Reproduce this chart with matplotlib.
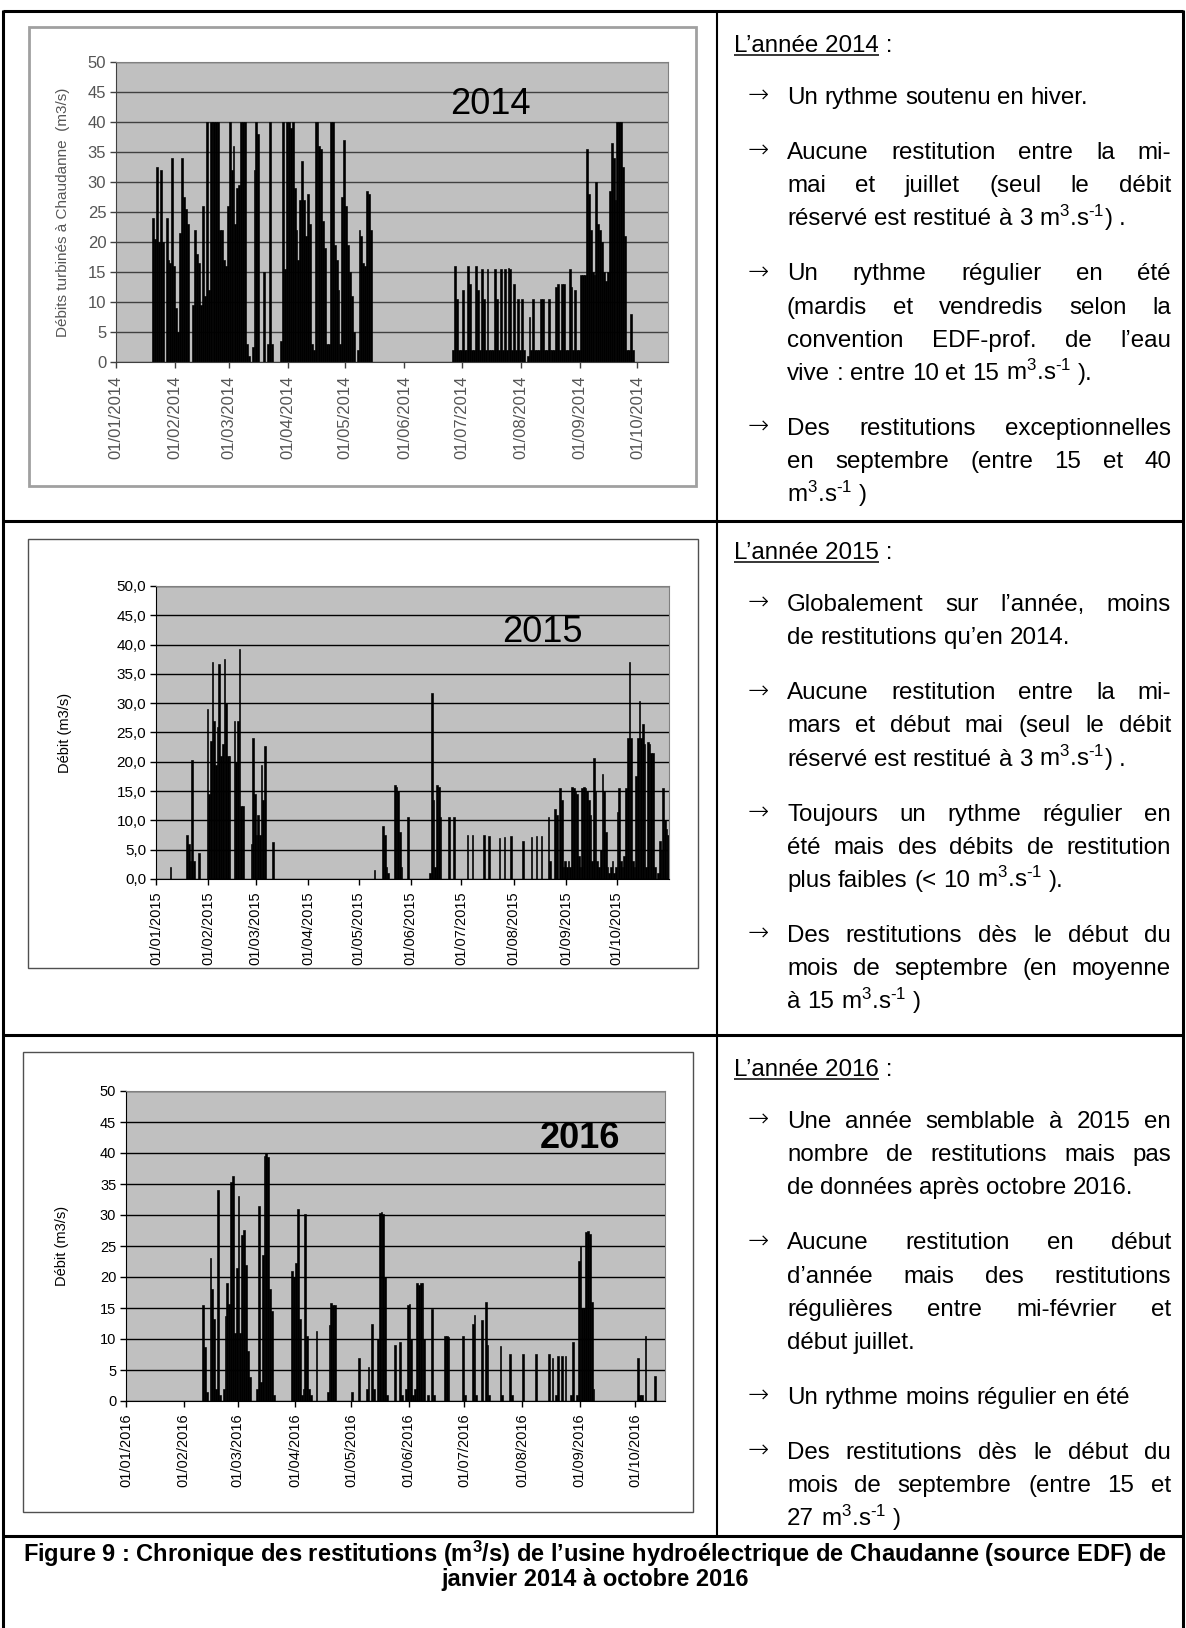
"""Chronique des restitutions de l'usine hydroélectrique de Chaudanne, 2014-2016."""

import datetime as dt

import matplotlib
matplotlib.use("Agg")
import matplotlib.pyplot as plt
import matplotlib.dates as mdates
from matplotlib.lines import Line2D
from matplotlib.patches import Rectangle
from matplotlib.ticker import FuncFormatter

plt.rcParams["font.family"] = ["Liberation Sans", "DejaVu Sans"]
plt.rcParams["mathtext.fontset"] = "custom"
plt.rcParams["mathtext.rm"] = "Liberation Sans"
plt.rcParams["mathtext.it"] = "Liberation Sans:italic"
plt.rcParams["mathtext.bf"] = "Liberation Sans:bold"

# --- daily discharge (m3/s), one row per month ---
debit_2014 = (
    [0] * 19 + [24, 20.5, 32.5, 20, 32, 20, 0, 24, 17, 16.5, 34, 16]
    + [9, 5, 21.5, 34, 27.5, 25.5, 23, 0, 0, 9.5, 22, 18, 16.5, 9.5, 26, 11,
       40, 12, 40, 40, 40, 40, 40, 22, 22, 17, 16, 26]
    + [40, 32, 36, 23, 29, 29.5, 40, 40, 40, 3, 1, 0, 2.5, 32, 40, 38, 0, 0,
       15, 0, 3, 40, 3, 0, 0, 0, 0, 3.5, 40, 15.5, 40]
    + [40, 39, 40, 29, 22, 17, 27, 33.5, 27, 21, 28, 23, 3, 2, 40, 40, 36,
       35.5, 23.5, 19, 3, 3, 40, 40, 19.5, 17, 12, 3, 27.5, 37]
    + [26, 19.5, 15, 11, 5, 0, 2, 22, 21, 16.5, 16, 28.5, 28, 22] + [0] * 17
    + [0] * 25 + [2, 16, 10.5, 2, 2]
    + [12, 2, 2, 16, 13, 2, 2, 16, 12, 2, 15.5, 10.5, 2, 15.5, 2, 2, 2, 15.5,
       10.5, 2, 15.5, 2, 15.5, 2, 15.7, 15.5, 2, 13, 2, 10.5, 2]
    + [10.5, 2, 0, 1, 7.5, 2, 10.5, 2, 2, 2, 10.5, 10.5, 2, 2, 10.5, 2, 2, 2,
       12.5, 13, 2, 13, 13, 2, 2, 15.5, 12.5, 2, 12, 2, 2]
    + [14.5, 14.5, 14.5, 35.5, 28, 22, 15, 14.5, 30, 23, 22, 20, 15, 13.5, 15,
       28.5, 36.5, 34, 27, 40, 40, 40, 32.5, 21, 2, 2, 8, 2, 0, 0]
    + [0] * 16
)

debit_2015 = (
    [0] * 8 + [2] + [0] * 9 + [7.5, 6, 3, 20.3, 3, 0, 0, 4.5, 0, 0, 0, 0, 29]
    + [14.5, 23.5, 37, 27, 19.5, 26, 36.7, 21, 23, 37.5, 30, 21, 21, 0, 0,
       27, 20, 27, 39.3, 12.5, 12.5, 0, 0, 0, 0, 6, 24, 14.5]
    + [7.5, 11, 7.5, 19.5, 13.5, 22.7, 0, 0, 0, 0, 6.3] + [0] * 20
    + [0] * 30
    + [0] * 9 + [1.5, 0, 0, 0, 0, 9, 7.5, 2, 1, 0, 0, 0, 16, 15.7, 15, 8, 2,
                 0, 0, 0, 10.5, 0]
    + [0] * 11 + [1, 31.7, 13.5, 2, 16, 15.7, 10.5, 0, 0, 0, 0, 10.5, 0, 0,
                  10.5, 0, 0, 0, 0]
    + [0, 0, 0, 7.5, 0, 0, 7.5, 0, 0, 0, 0, 0, 0, 7.5, 0, 0, 7.3, 0, 0, 0, 0,
       0, 7, 0, 0, 7.2, 0, 0, 0, 7.3, 0]
    + [0, 0, 0, 0, 0, 6.5, 0, 0, 0, 0, 7.2, 0, 0, 7.3, 0, 0, 7.4, 0, 0, 0,
       10.5, 3, 0, 0, 12, 11, 0, 15.5, 13.5, 2, 3]
    + [2, 3, 2, 15.7, 15.5, 15, 14.5, 4, 2, 15.5, 15.7, 15.5, 15, 13.5, 11, 3,
       20.7, 15, 3, 2, 5, 18, 15, 8, 2, 1, 2, 3, 1, 2]
    + [11.5, 15.5, 3, 2, 4, 15.5, 24, 37.1, 24, 3, 2, 17.5, 24, 30.3, 24, 26.4,
       23, 2, 23.3, 23, 21.5, 21.5, 2, 0, 1, 6.5, 5, 15.5, 10, 8.5, 7.5]
)

debit_2016 = (
    [0] * 31
    + [0] * 10 + [15.5, 8.7, 1.5, 0, 23, 18, 13.3, 2, 34, 1, 0, 2, 13.7, 19,
                  15.6, 35.3, 36.3, 11, 21.5]
    + [33, 11, 26.8, 27.6, 22, 8, 3.8, 0, 0, 0, 2, 31.4, 3, 23.5, 39.5, 40,
       39.3, 18, 14.5, 1] + [0] * 9 + [21, 20]
    + [22.3, 31, 13.3, 1, 2, 30.2, 10.5, 2, 1, 0, 0, 11.3, 0, 0, 0, 0, 0, 1.5,
       12.3, 15.8, 15.5, 15.5] + [0] * 8
    + [1.5, 0, 0, 0, 7, 0, 0, 0, 2, 5.5, 0, 12.5, 2, 0, 10, 30.3, 30.5, 30.2,
       20, 1, 0, 0, 0, 9, 0, 0, 9.5, 1, 0, 2, 15.5]
    + [15.6, 10, 1, 2, 19, 18.7, 19, 19, 10, 0, 1, 0, 14.8, 1, 0, 0, 0, 0, 0,
       10.5, 10.5, 10.3, 0, 0, 0, 0, 0, 0, 0, 10.5]
    + [1, 0, 0, 0, 12.4, 13.8, 1, 0, 0, 13, 0, 15.9, 9, 1, 0, 0, 0, 0, 0, 8.8,
       1, 0, 0, 0, 7.6, 1, 0, 0, 0, 0, 0]
    + [7.6, 0, 0, 0, 0, 0, 0, 7.6, 0, 0, 0, 0, 0, 0, 7.6, 0, 7, 0, 1, 7.2, 0,
       7.2, 0, 7.2, 0, 0, 1, 9.5, 0, 1, 22.6]
    + [25, 15, 15, 27.3, 27.5, 27, 16, 2] + [0] * 22
    + [0, 7, 1, 1, 0, 10.5, 0, 0, 0, 0, 4, 0, 0, 0, 0, 0]
)

y_ticks = [0, 5, 10, 15, 20, 25, 30, 35, 40, 45, 50]
tick_months = [1, 2, 3, 4, 5, 6, 7, 8, 9, 10]

UNIT = "m$^{3}$.s$^{‐1}$"
commentaires = {
    2014: [
        ["Un rythme soutenu en hiver."],
        ["Aucune restitution entre la mi-",
         "mai et juillet (seul le débit",
         f"réservé est restitué à 3 {UNIT}) ."],
        ["Un rythme régulier en été",
         "(mardis et vendredis selon la",
         "convention EDF-prof. de l’eau",
         f"vive : entre 10 et 15 {UNIT} )."],
        ["Des restitutions exceptionnelles",
         "en septembre (entre 15 et 40",
         f"{UNIT} )"],
    ],
    2015: [
        ["Globalement sur l’année, moins",
         "de restitutions qu’en 2014."],
        ["Aucune restitution entre la mi-",
         "mars et début mai (seul le débit",
         f"réservé est restitué à 3 {UNIT}) ."],
        ["Toujours un rythme régulier en",
         "été mais des débits de restitution",
         f"plus faibles (< 10 {UNIT} )."],
        ["Des restitutions dès le début du",
         "mois de septembre (en moyenne",
         f"à 15 {UNIT} )"],
    ],
    2016: [
        ["Une année semblable à 2015 en",
         "nombre de restitutions mais pas",
         "de données après octobre 2016."],
        ["Aucune restitution en début",
         "d’année mais des restitutions",
         "régulières entre mi-février et",
         "début juillet."],
        ["Un rythme moins régulier en été"],
        ["Des restitutions dès le début du",
         "mois de septembre (entre 15 et",
         f"27 {UNIT} )"],
    ],
}

legende = [
    "Figure 9 : Chronique des restitutions (m$^{\\mathbf{3}}$/s) de l’usine "
    "hydroélectrique de Chaudanne (source EDF) de",
    "janvier 2014 à octobre 2016",
]

# --- page geometry (pixels, origin top-left) ---
W, H = 1186, 1628
fig = plt.figure(figsize=(W / 100, H / 100), dpi=100)
renderer = fig.canvas.get_renderer()


def fx(x):
    return x / W


def fy(y):
    return 1 - y / H


def line(x0, y0, x1, y1, lw=2.2, color="black"):
    fig.add_artist(Line2D([fx(x0), fx(x1)], [fy(y0), fy(y1)], lw=lw,
                          color=color, solid_capstyle="butt"))


def frame(box, color, lw):
    x0, y0, x1, y1 = box
    fig.add_artist(Rectangle((fx(x0), fy(y1)), (x1 - x0) / W, (y1 - y0) / H,
                             transform=fig.transFigure, fill=False,
                             ec=color, lw=lw))


def draw_chart(year, values, plot_box, frame_box, ylabel, ylabel_x, fmt,
               label_x, label_y, bold, muted, ysize=10.5):
    ink = "#404040" if muted else "black"
    frame(frame_box, "#a0a0a0" if muted else "#505050", 2.0 if muted else 1.0)

    x0, y0, x1, y1 = plot_box
    ax = fig.add_axes([fx(x0), fy(y1), (x1 - x0) / W, (y1 - y0) / H])
    start = dt.date(year, 1, 1)
    days = [start + dt.timedelta(days=i) for i in range(len(values))]
    ax.bar(days, values, width=1.0, align="edge", color="black",
           ec="black", lw=0.45)

    ax.set_xlim(start, start + dt.timedelta(days=len(values)))
    ax.set_ylim(0, 50)
    ax.set_facecolor("#c0c0c0")
    ax.set_axisbelow(True)
    ax.grid(axis="y", color=ink, lw=1.0)

    ax.set_yticks(y_ticks)
    ax.yaxis.set_major_formatter(FuncFormatter(fmt))
    ax.set_xticks([dt.date(year, m, 1) for m in tick_months])
    ax.xaxis.set_major_formatter(mdates.DateFormatter("%d/%m/%Y"))
    tcol = "#555555" if muted else "black"
    ax.tick_params(axis="both", direction="out", length=4, width=1,
                   color=ink, labelcolor=tcol)
    ax.tick_params(axis="y", labelsize=12 if muted else ysize, pad=3)
    ax.tick_params(axis="x", labelrotation=90, labelsize=12 if muted else 10.5,
                   pad=6 if muted else 5)

    for side in ("top", "right"):
        ax.spines[side].set_color("#808080")
    for side in ("left", "bottom"):
        ax.spines[side].set_color(ink)

    ax.text(ylabel_x, 0.5, ylabel, transform=ax.transAxes, rotation=90,
            ha="center", va="center", fontsize=11 if muted else 10.5,
            color=tcol)
    ax.text(label_x, label_y, str(year), transform=ax.get_yaxis_transform(),
            ha="center", va="center", fontsize=26,
            fontweight="bold" if bold else "normal")
    return ax


def fmt_int(v, _pos):
    return f"{v:.0f}"


def fmt_dec(v, _pos):
    return f"{v:.1f}".replace(".", ",")


draw_chart(2014, debit_2014, (116, 62, 668, 362), (29, 27, 696, 486),
           "Débits turbinés à Chaudanne  (m3/s)", -0.096, fmt_int,
           0.678, 43, False, True)
draw_chart(2015, debit_2015, (156, 586, 669, 879), (28, 539, 698, 968),
           "Débit (m3/s)", -0.177, fmt_dec, 0.754, 42.1, False, False,
           ysize=11)
draw_chart(2016, debit_2016, (126, 1091, 665, 1401), (23, 1052, 693, 1512),
           "Débit (m3/s)", -0.119, fmt_int, 0.842, 42.4, True, False)

# --- table rules ---
TOP, ROW1, ROW2, ROW3 = 11, 521, 1035, 1536
LEFT, MID, RIGHT = 3, 717, 1183
line(LEFT, TOP, RIGHT, TOP)
for y in (ROW1, ROW2, ROW3):
    line(LEFT, y, RIGHT, y)
line(LEFT, TOP - 1, LEFT, H)
line(RIGHT, TOP - 1, RIGHT, H)
line(MID, TOP, MID, ROW3, lw=1.5)

# --- commentary panels, justified by hand word by word ---
FS = 17.4
X_HEAD, X_ARROW, X_TEXT, X_END = 734, 758, 787, 1171
STEP, GAP = 33.2, 55
SPACE = FS * 100 / 72 * 0.278


def width_of(t):
    return t.get_window_extent(renderer).width


def put_line(text, baseline, justify):
    words = text.split(" ")
    items = [fig.text(0, 0, w, fontsize=FS, va="baseline") for w in words]
    widths = [width_of(t) for t in items]
    gap = SPACE
    if justify and len(words) > 1:
        gap = (X_END - X_TEXT - sum(widths)) / (len(words) - 1)
    x = X_TEXT
    for t, w in zip(items, widths):
        t.set_position((fx(x), fy(baseline)))
        x += w + gap


def draw_panel(year, head_y):
    base = head_y + 7
    head = fig.text(fx(X_HEAD), fy(base), f"L’année {year}", fontsize=FS,
                    va="baseline")
    hw = width_of(head)
    fig.text(fx(X_HEAD + hw), fy(base), " :", fontsize=FS, va="baseline")
    line(X_HEAD, base + 3, X_HEAD + hw, base + 3, lw=1.1)

    y = base + 52
    for para in commentaires[year]:
        fig.text(fx(X_ARROW), fy(y - 1), "→", fontsize=FS * 1.05,
                 va="baseline", ha="center", family="DejaVu Sans",
                 fontweight="light")
        for i, txt in enumerate(para):
            put_line(txt, y, justify=i < len(para) - 1)
            y += STEP
        y += GAP - STEP


draw_panel(2014, 45)
draw_panel(2015, 552)
draw_panel(2016, 1069)

# --- caption, scaled to the width of the table cell ---
cap = fig.text(fx(595), fy(1562), legende[0], fontsize=15, fontweight="bold",
               ha="center", va="baseline")
cap_fs = 15 * 1146 / width_of(cap)
cap.set_fontsize(cap_fs)
fig.text(fx(595), fy(1586), legende[1], fontsize=cap_fs, fontweight="bold",
         ha="center", va="baseline")

fig.savefig("out.png", dpi=100, facecolor="white")
